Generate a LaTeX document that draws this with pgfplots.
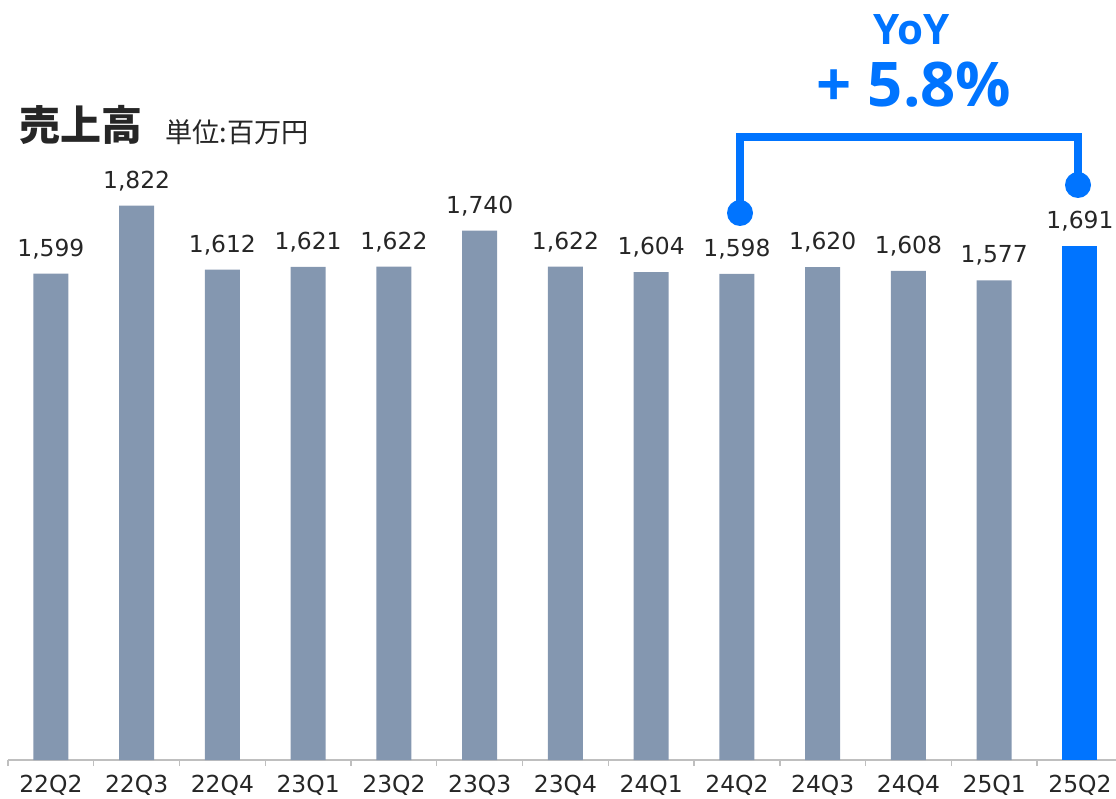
\documentclass[border=0pt]{standalone}
\usepackage{pgfplots}
\pgfplotsset{compat=1.18}
\usepackage{fontspec}
\setmainfont{DejaVu Sans}
\newfontfamily\jp{Noto Sans CJK JP}
\newfontfamily\os{Open Sans}
\definecolor{bargray}{HTML}{8497B0}
\definecolor{hiblue}{HTML}{0074FF}
\definecolor{txt}{HTML}{262626}
\definecolor{axisgray}{HTML}{BFBFBF}

\begin{document}
\begin{tikzpicture}
\useasboundingbox (0,0) rectangle (558pt,399.5pt);
\begin{axis}[
  at={(4pt,19.5pt)}, anchor=south west,
  scale only axis, width=554pt, height=304.2pt,
  xmin=-0.5, xmax=12.42, ymin=0, ymax=2000,
  axis x line*=bottom, axis y line=none,
  ybar, bar width=17.5pt, bar shift=0pt,
  xtick={0,...,12},
  xticklabels={22Q2,22Q3,22Q4,23Q1,23Q2,23Q3,23Q4,24Q1,24Q2,24Q3,24Q4,25Q1,25Q2},
  minor xtick={-0.5,0.5,...,11.5},
  major tick length=0pt, minor tick length=3pt, tick align=outside,
  tick style={axisgray, line width=0.7pt},
  axis line style={axisgray, line width=0.7pt},
  xticklabel style={font=\fontsize{11.7}{14}\selectfont, text=txt, inner sep=0pt, anchor=north, yshift=-7.5pt},
  nodes near coords={\pgfmathprintnumber[1000 sep={,},assume math mode=true]{\pgfplotspointmeta}},
  every node near coord/.append style={font=\fontsize{11.7}{14}\selectfont, text=txt, inner sep=0pt, text depth=0pt, yshift=8.5pt},
  clip=false,
]
\addplot[fill=bargray, draw=none] coordinates {
  (0,1599) (1,1822) (2,1612) (3,1621) (4,1622) (5,1740)
  (6,1622) (7,1604) (8,1598) (9,1620) (10,1608) (11,1577)
};
\addplot[fill=hiblue, draw=none] coordinates {(12,1691)};
\end{axis}

% annotations in pixel units of the reference (origin top left)
\begin{scope}[x=0.5pt, y=-0.5pt, yshift=399.5pt]
  \node[anchor=west, inner sep=0pt, text=txt] at (19,125) {\jp\bfseries\fontsize{20.5}{24}\selectfont 売上高};
  \node[anchor=west, inner sep=0pt, text=txt] at (165,132) {\jp\fontsize{13.6}{16}\selectfont 単位:百万円};
  \draw[hiblue, line width=4pt, line join=miter, line cap=butt]
    (740,213) -- (740,137.5) -- (1078,137.5) -- (1078,185);
  \fill[hiblue] (740,213) circle[radius=6.5pt];
  \fill[hiblue] (1078,185) circle[radius=6.5pt];
  \node[anchor=base, inner sep=0pt, text=hiblue] at (912,45) {\os\bfseries\fontsize{21}{24}\selectfont YoY};
  \node[anchor=base, inner sep=0pt, text=hiblue] at (914,107) {\os\bfseries\fontsize{30.8}{34}\selectfont + 5.8\%};
\end{scope}
\end{tikzpicture}
\end{document}
